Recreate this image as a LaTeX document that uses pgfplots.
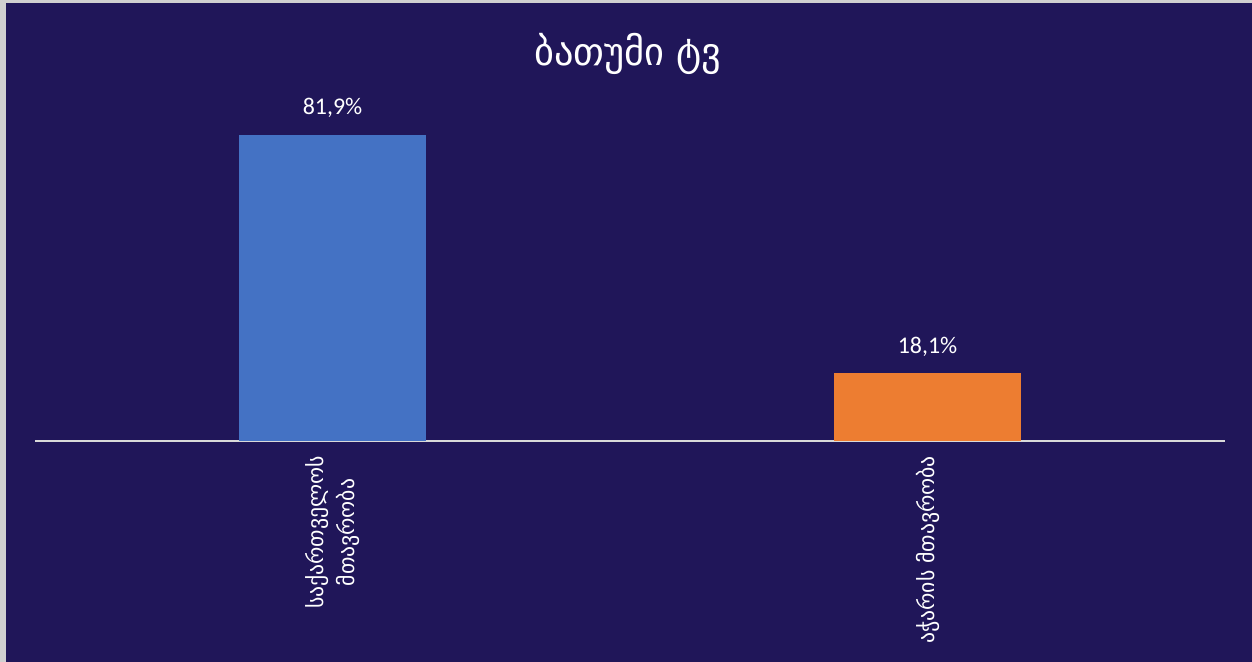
\documentclass[border=0pt]{standalone}
\usepackage{pgfplots}
\pgfplotsset{compat=1.18}
\usepackage{fontspec}
\setmainfont{Carlito}
\newfontfamily\geo{DejaVu Sans}
\definecolor{bg}{HTML}{201659}
\definecolor{barblue}{HTML}{4472C4}
\definecolor{barorange}{HTML}{ED7D31}
\definecolor{axisgray}{HTML}{D9D9D9}
\definecolor{edgegray}{HTML}{D0D0D0}
\begin{document}
\begin{tikzpicture}
\fill[edgegray] (0,0) rectangle (626bp,-331bp);
\fill[bg] (3bp,-1.5bp) rectangle (626bp,-331bp);
\useasboundingbox (0,0) rectangle (626bp,-331bp);
\node[text=white, font=\geo\fontsize{19.3}{23}\selectfont] at (314bp,-27bp) {ბათუმი ტვ};
\begin{axis}[
  at={(17.5bp,-220.5bp)}, anchor=south west,
  scale only axis, width=595bp, height=187bp,
  xmin=-0.5, xmax=1.5, ymin=0, ymax=100,
  axis x line=bottom, hide y axis,
  x axis line style={-, draw=axisgray, line width=1.1bp},
  ytick=\empty,
  xtick={0,1},
  xticklabels={{საქართველოს\\მთავრობა},{აჭარის მთავრობა}},
  major tick length=0pt,
  xticklabel style={rotate=90, xshift=-4bp, anchor=east, align=center, text=white,
    font=\geo\fontsize{10.9}{16}\selectfont},
  ybar, bar width=93.5bp,
  /pgf/number format/assume math mode=true,
  nodes near coords={\pgfmathprintnumber[fixed, fixed zerofill, precision=1, use comma]{\pgfplotspointmeta}\%},
  every node near coord/.append style={text=white, font=\fontsize{12}{14}\selectfont, yshift=5bp},
]
\addplot[fill=barblue, draw=none, bar shift=0pt] coordinates {(0,81.9)};
\addplot[fill=barorange, draw=none, bar shift=0pt] coordinates {(1,18.1)};
\end{axis}
\end{tikzpicture}
\end{document}
